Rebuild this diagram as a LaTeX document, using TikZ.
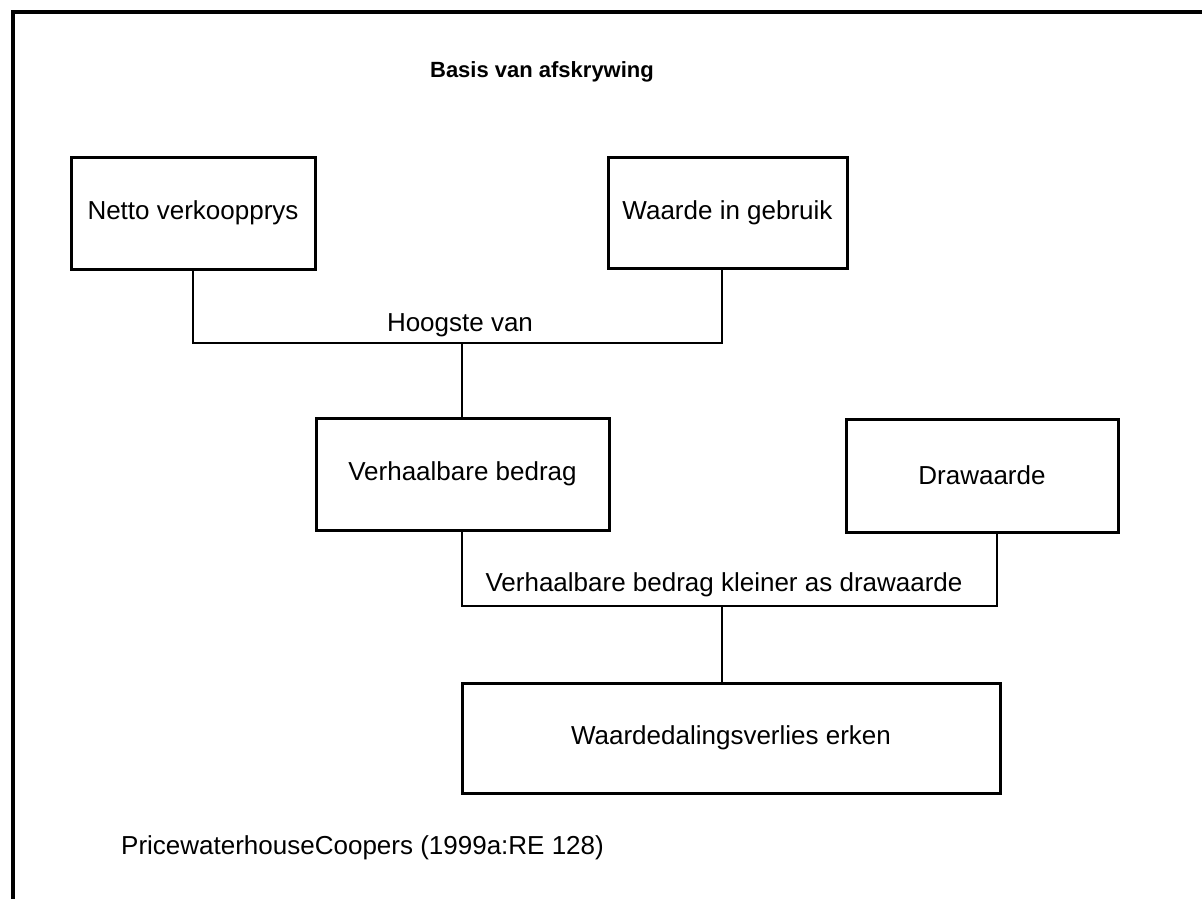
\documentclass[tikz,border=0pt]{standalone}
\usepackage{fontspec}
\setmainfont{Liberation Sans}
\begin{document}
\begin{tikzpicture}[x=1pt,y=-1pt,
  box/.style={draw,line width=3pt,inner sep=0pt,font=\fontsize{26}{30}\selectfont},
  lbl/.style={inner sep=0pt,font=\fontsize{26}{30}\selectfont},
  conn/.style={line width=1.5pt}]
\useasboundingbox (0,0) rectangle (1202,899);
\draw[line width=4pt] (13,899) -- (13,12) -- (1202,12);
\node[inner sep=0pt,font=\bfseries\fontsize{22}{26}\selectfont] (title) at (542,72) {Basis van afskrywing};
\node[box,minimum width=244pt,minimum height=112pt] (nv) at (193,213) {Netto verkoopprys};
\node[box,minimum width=239pt,minimum height=111pt] (wg) at (727.5,212.5) {Waarde in gebruik};
\node[box,minimum width=293pt,minimum height=112pt] (vb) at (462.5,474) {Verhaalbare bedrag};
\node[box,minimum width=272pt,minimum height=113pt] (dw) at (982,475.5) {Drawaarde};
\node[box,minimum width=538pt,minimum height=110pt] (wv) at (731,738) {Waardedalingsverlies erken};
\node[lbl] (hv) at (460,325) {Hoogste van};
\node[lbl] (vk) at (724,585) {Verhaalbare bedrag kleiner as drawaarde};
\node[lbl,anchor=west] (src) at (121,848) {PricewaterhouseCoopers (1999a:RE 128)};
\coordinate (j1l) at (193,343);
\coordinate (j1r) at (722,343);
\coordinate (j1m) at (462,343);
\coordinate (j2l) at (462,606);
\coordinate (j2r) at (997,606);
\coordinate (j2m) at (722,606);
\draw[conn] (nv.south) -- (j1l) -- (j1r) -- (j1r |- wg.south);
\draw[conn] (j1m) -- (vb.north -| j1m);
\draw[conn] (vb.south -| j2l) -- (j2l) -- (j2r) -- (j2r |- dw.south);
\draw[conn] (j2m) -- (wv.north -| j2m);
\end{tikzpicture}
\end{document}
